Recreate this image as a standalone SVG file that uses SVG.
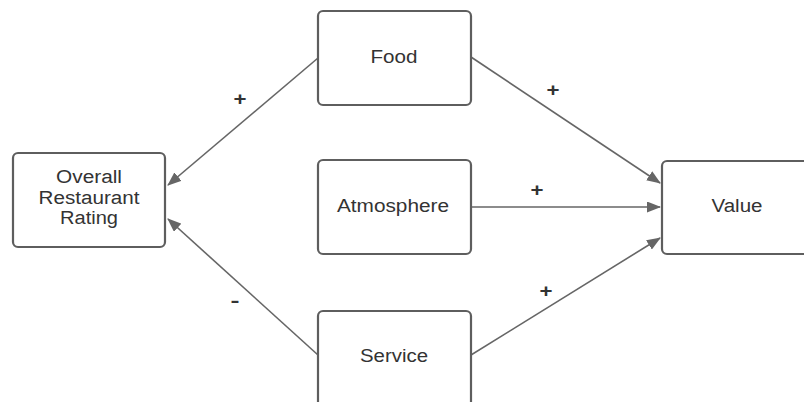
<svg xmlns="http://www.w3.org/2000/svg" width="804" height="402" viewBox="0 0 804 402">
<style>
.box{fill:#fff;stroke:#5e5e5e;stroke-width:2.2}
.t{font-family:"Liberation Sans",Arial,sans-serif;font-size:18px;fill:#333;text-anchor:middle}
.lbl{font-family:"Liberation Sans",Arial,sans-serif;font-size:19px;font-weight:bold;fill:#333;text-anchor:middle}
.c{stroke:#666;stroke-width:1.6;fill:none;marker-end:url(#ah)}
</style>
<defs>
<marker id="ah" markerWidth="14" markerHeight="11" refX="13" refY="5.5" orient="auto" markerUnits="userSpaceOnUse">
<path d="M0,0 L14,5.5 L0,11 Z" fill="#666"/>
</marker>
</defs>
<rect width="804" height="402" fill="#fff"/>
<g id="connectors">
<line class="c" x1="318" y1="58" x2="168" y2="185"/>
<line class="c" x1="318" y1="355" x2="168" y2="219"/>
<line class="c" x1="471" y1="57" x2="660" y2="183"/>
<line class="c" x1="471" y1="207" x2="660" y2="207"/>
<line class="c" x1="471" y1="355" x2="660" y2="238"/>
<text class="lbl" x="240" y="105" textLength="13" lengthAdjust="spacingAndGlyphs">+</text>
<text class="lbl" x="235" y="307" textLength="9" lengthAdjust="spacingAndGlyphs">-</text>
<text class="lbl" x="553" y="96" textLength="13" lengthAdjust="spacingAndGlyphs">+</text>
<text class="lbl" x="537" y="196" textLength="13" lengthAdjust="spacingAndGlyphs">+</text>
<text class="lbl" x="546" y="297" textLength="13" lengthAdjust="spacingAndGlyphs">+</text>
</g>
<g id="overall">
<rect class="box" x="13" y="153" width="152" height="94" rx="5"/>
<text class="t" x="89" y="183" textLength="66" lengthAdjust="spacingAndGlyphs">Overall</text>
<text class="t" x="89" y="204" textLength="101" lengthAdjust="spacingAndGlyphs">Restaurant</text>
<text class="t" x="89" y="224" textLength="58" lengthAdjust="spacingAndGlyphs">Rating</text>
</g>
<g id="food">
<rect class="box" x="318" y="11" width="153" height="94" rx="5"/>
<text class="t" x="394" y="63" textLength="47" lengthAdjust="spacingAndGlyphs">Food</text>
</g>
<g id="atmosphere">
<rect class="box" x="318" y="160" width="153" height="94" rx="5"/>
<text class="t" x="393" y="212" textLength="112" lengthAdjust="spacingAndGlyphs">Atmosphere</text>
</g>
<g id="service">
<rect class="box" x="318" y="311" width="153" height="100" rx="5"/>
<text class="t" x="394" y="362" textLength="68" lengthAdjust="spacingAndGlyphs">Service</text>
</g>
<g id="value">
<rect class="box" x="662" y="161" width="150" height="93" rx="5"/>
<text class="t" x="737" y="212" textLength="51" lengthAdjust="spacingAndGlyphs">Value</text>
</g>
</svg>
